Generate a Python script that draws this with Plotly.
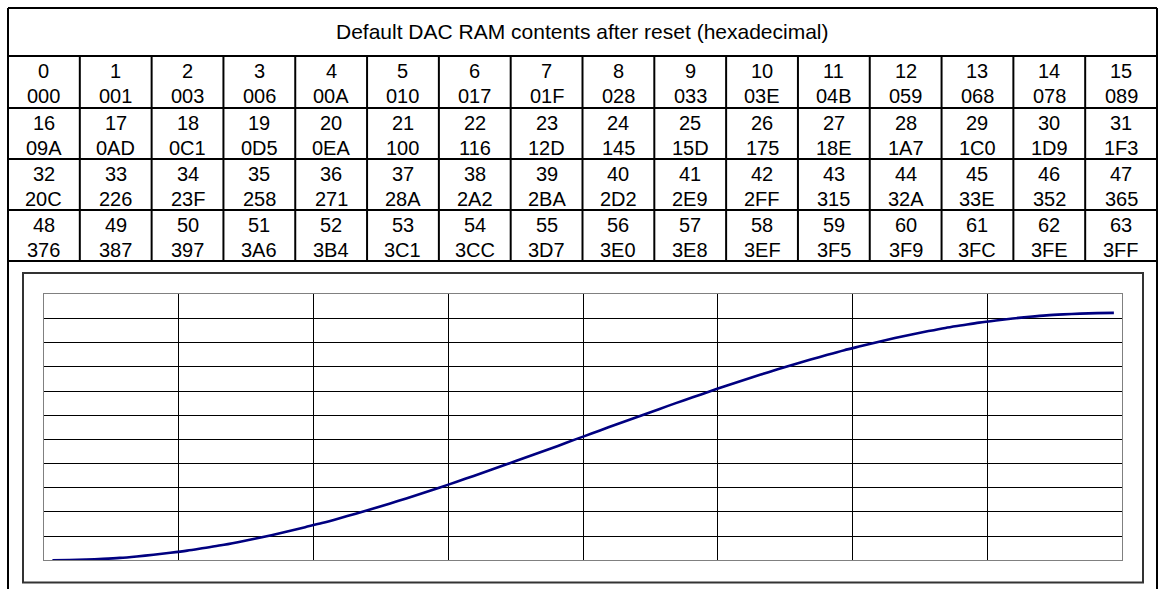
import plotly.graph_objects as go

W, H = 1159, 589

title_text = "Default DAC RAM contents after reset (hexadecimal)"
indices = list(range(64))
hex_values = [
    "000", "001", "003", "006", "00A", "010", "017", "01F", "028", "033", "03E", "04B", "059", "068", "078", "089",
    "09A", "0AD", "0C1", "0D5", "0EA", "100", "116", "12D", "145", "15D", "175", "18E", "1A7", "1C0", "1D9", "1F3",
    "20C", "226", "23F", "258", "271", "28A", "2A2", "2BA", "2D2", "2E9", "2FF", "315", "32A", "33E", "352", "365",
    "376", "387", "397", "3A6", "3B4", "3C1", "3CC", "3D7", "3E0", "3E8", "3EF", "3F5", "3F9", "3FC", "3FE", "3FF",
]
dac_values = [int(h, 16) for h in hex_values]

N_COLS = 16
FONT = "Liberation Sans, Arial, sans-serif"

# table geometry (pixels)
TL, TR = 8, 1157
TT = 8
ROW_Y = [56, 108, 159, 210, 261]
COL_W = (TR - TL) / N_COLS


def px(x):
    return x / W


def py(y):
    return 1 - y / H


fig = go.Figure()

fig.add_trace(go.Scatter(
    x=indices, y=dac_values, mode="lines",
    line=dict(color="#000080", width=2.6, shape="spline", smoothing=0.8),
    hoverinfo="skip", showlegend=False,
))

shapes = []
LINE = dict(color="black", width=2)


def seg(x0, y0, x1, y1, line=LINE):
    shapes.append(dict(type="line", xref="paper", yref="paper",
                       x0=px(x0), y0=py(y0), x1=px(x1), y1=py(y1), line=line, layer="above"))


# outer table border
seg(TL, TT, TR, TT)
seg(TL, TT, TL, H + 5)
seg(TR, TT, TR, H + 5)
for y in ROW_Y:
    seg(TL, y, TR, y)
for c in range(1, N_COLS):
    x = TL + c * COL_W
    seg(x, ROW_Y[0], x, ROW_Y[-1])

# chart frame
shapes.append(dict(type="rect", xref="paper", yref="paper",
                   x0=px(23), y0=py(582.5), x1=px(1143), y1=py(273),
                   line=dict(color="#333333", width=2), layer="below"))

annotations = [dict(text=title_text, x=px((TL + TR) / 2), y=py(32), xref="paper", yref="paper",
                    showarrow=False, xanchor="center", yanchor="middle",
                    font=dict(family=FONT, size=21, color="black"))]

for i, (idx, hv) in enumerate(zip(indices, hex_values)):
    r, c = divmod(i, N_COLS)
    cx = TL + (c + 0.5) * COL_W
    top = ROW_Y[r]
    annotations.append(dict(text=str(idx), x=px(cx), y=py(top + 15), xref="paper", yref="paper",
                            showarrow=False, xanchor="center", yanchor="middle",
                            font=dict(family=FONT, size=20, color="black")))
    annotations.append(dict(text=hv, x=px(cx), y=py(top + 40), xref="paper", yref="paper",
                            showarrow=False, xanchor="center", yanchor="middle",
                            font=dict(family=FONT, size=20, color="black")))

fig.update_layout(
    width=W, height=H,
    margin=dict(l=0, r=0, t=0, b=0),
    paper_bgcolor="white", plot_bgcolor="white",
    shapes=shapes, annotations=annotations,
    xaxis=dict(domain=[px(44), px(1122.3)], range=[-0.5, 63.5],
               tickmode="linear", tick0=-0.5, dtick=8,
               showgrid=True, gridcolor="#000000", gridwidth=1,
               showticklabels=False, ticks="", zeroline=False,
               showline=True, mirror=True, linecolor="#808080", linewidth=1),
    yaxis=dict(domain=[1 - 560.3 / H, 1 - 294.3 / H], range=[0, 1100],
               tickmode="linear", tick0=0, dtick=100,
               showgrid=True, gridcolor="#000000", gridwidth=1,
               showticklabels=False, ticks="", zeroline=False,
               showline=True, mirror=True, linecolor="#808080", linewidth=1),
    showlegend=False,
    hovermode=False,
)

fig.write_html("out.html", config={"displayModeBar": False, "staticPlot": True},
               post_script="document.body.style.margin='0';document.body.style.overflow='hidden';")
